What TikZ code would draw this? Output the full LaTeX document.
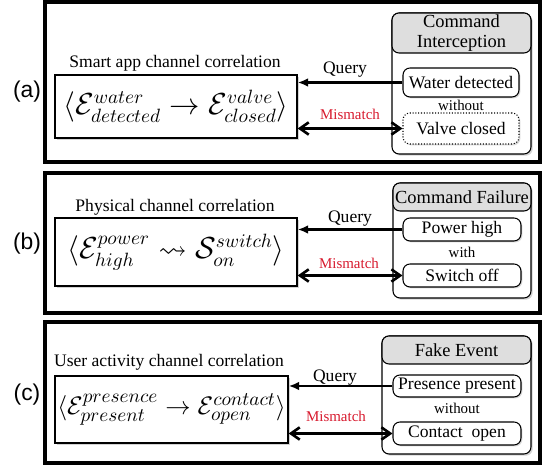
\documentclass[tikz,border=0pt]{standalone}
\usepackage{amsmath, amssymb}
\usepackage{fontspec}
\setmainfont{Liberation Serif}
\newfontfamily\tagfont{Liberation Sans}
\usepackage{tikz}
\usetikzlibrary{arrows.meta, positioning, shadows}
\definecolor{headgray}{RGB}{222,222,222}
\definecolor{myred}{RGB}{215,25,45}

\begin{document}
\begin{tikzpicture}[x=0.02cm,y=-0.02cm,every node/.style={font=\fontsize{10}{12}\selectfont},
    panel/.style={draw,line width=1.8pt},
    corrbox/.style={draw,line width=0.8pt,fill=white,inner sep=0pt,drop shadow={shadow xshift=1pt,shadow yshift=-1pt,opacity=0.35},font=\fontsize{16}{19}\selectfont},
    attackbox/.style={draw,line width=0.6pt,rounded corners=4pt,fill=white,inner sep=0pt,drop shadow={shadow xshift=1pt,shadow yshift=-1pt,opacity=0.35}},
    headbox/.style={draw,line width=0.6pt,rounded corners=4pt,fill=headgray,inner sep=0pt,align=center,font=\fontsize{10.5}{12.5}\selectfont},
    eventbox/.style={draw,line width=0.6pt,rounded corners=4pt,fill=white,inner sep=0pt,drop shadow={shadow xshift=0.8pt,shadow yshift=-0.8pt,opacity=0.3}},
    tag/.style={font=\tagfont\fontsize{13}{15}\selectfont},
    small/.style={font=\fontsize{8.5}{10}\selectfont},
    query/.style={-{Latex[length=6pt,width=5pt]},line width=1.5pt},
    mismatch/.style={{Straight Barb[length=5pt,width=7pt]}-{Straight Barb[length=5pt,width=7pt]},line width=1.5pt}]
    \useasboundingbox (0,0) rectangle (545,465);

    % (a) smart app channel
    \draw[panel] (45,2) rectangle (540,162);
    \node[tag] (taga) at (27,92) {(a)};
    \node[corrbox,minimum width=4.84cm,minimum height=1.26cm] (cora) at (176,106.5)
        {$\langle\mathcal{E}^{water}_{detected}\rightarrow\mathcal{E}^{valve}_{closed}\rangle$};
    \node (titlea) at (175,63) {Smart app channel correlation};
    \node[attackbox,minimum width=2.78cm,minimum height=2.82cm] (atka) at (461.5,83.5) {};
    \node[headbox,minimum width=2.78cm,minimum height=0.8cm] (heada) at (461.5,33) {Command\\[-1pt]Interception};
    \node[eventbox,minimum width=2.32cm,minimum height=0.58cm] (water) at (461,82.5) {Water detected};
    \node[small] (witha) at (461,105) {without};
    \node[eventbox,densely dotted,minimum width=2.32cm,minimum height=0.62cm] (valve) at (461,128.5) {Valve closed};
    \draw[query] (water.west) -- (water.west -| cora.east);
    \draw[mismatch] (valve.west -| cora.east) -- (valve.west);
    \node (querya) at (345,70) {Query};
    \node[small,text=myred] (misa) at (350,114) {Mismatch};

    % (b) physical channel
    \draw[panel] (45,173) rectangle (540,313);
    \node[tag] (tagb) at (27,244) {(b)};
    \node[corrbox,minimum width=4.84cm,minimum height=1.36cm] (corb) at (176,252)
        {$\langle\mathcal{E}^{power}_{high}\rightsquigarrow\mathcal{S}^{switch}_{on}\rangle$};
    \node (titleb) at (175,207) {Physical channel correlation};
    \node[attackbox,minimum width=2.76cm,minimum height=2.3cm] (atkb) at (462,240.5) {};
    \node[headbox,minimum width=2.76cm,minimum height=0.56cm] (headb) at (462,197) {Command Failure};
    \node[eventbox,minimum width=2.36cm,minimum height=0.46cm] (power) at (462,229.5) {Power high};
    \node[small] (withb) at (462,252) {with};
    \node[eventbox,minimum width=2.36cm,minimum height=0.46cm] (switch) at (462,275.5) {Switch off};
    \draw[query] (power.west) -- (power.west -| corb.east);
    \draw[mismatch] (switch.west -| corb.east) -- (switch.west);
    \node (queryb) at (350,219) {Query};
    \node[small,text=myred] (misb) at (349,263) {Mismatch};

    % (c) user activity channel
    \draw[panel] (45,322) rectangle (540,463);
    \node[tag] (tagc) at (27,395) {(c)};
    \node[corrbox,font=\fontsize{15}{18}\selectfont,minimum width=4.66cm,minimum height=1.34cm] (corc) at (171.5,409.5)
        {$\langle\mathcal{E}^{presence}_{present}\rightarrow\mathcal{E}^{contact}_{open}\rangle$};
    \node (titlec) at (169,362) {User activity channel correlation};
    \node[attackbox,minimum width=2.98cm,minimum height=2.36cm] (atkc) at (456.5,395) {};
    \node[headbox,minimum width=2.98cm,minimum height=0.56cm] (headc) at (456.5,350) {Fake Event};
    \node[eventbox,minimum width=2.56cm,minimum height=0.44cm] (presence) at (457,386) {Presence present};
    \node[small] (withc) at (457,408) {without};
    \node[eventbox,minimum width=2.56cm,minimum height=0.46cm] (contact) at (457,433.5) {Contact\ \ open};
    \draw[query] (presence.west) -- (presence.west -| corc.east);
    \draw[mismatch] (contact.west -| corc.east) -- (contact.west);
    \node (queryc) at (335,378) {Query};
    \node[small,text=myred] (misc) at (336,416) {Mismatch};
\end{tikzpicture}
\end{document}
